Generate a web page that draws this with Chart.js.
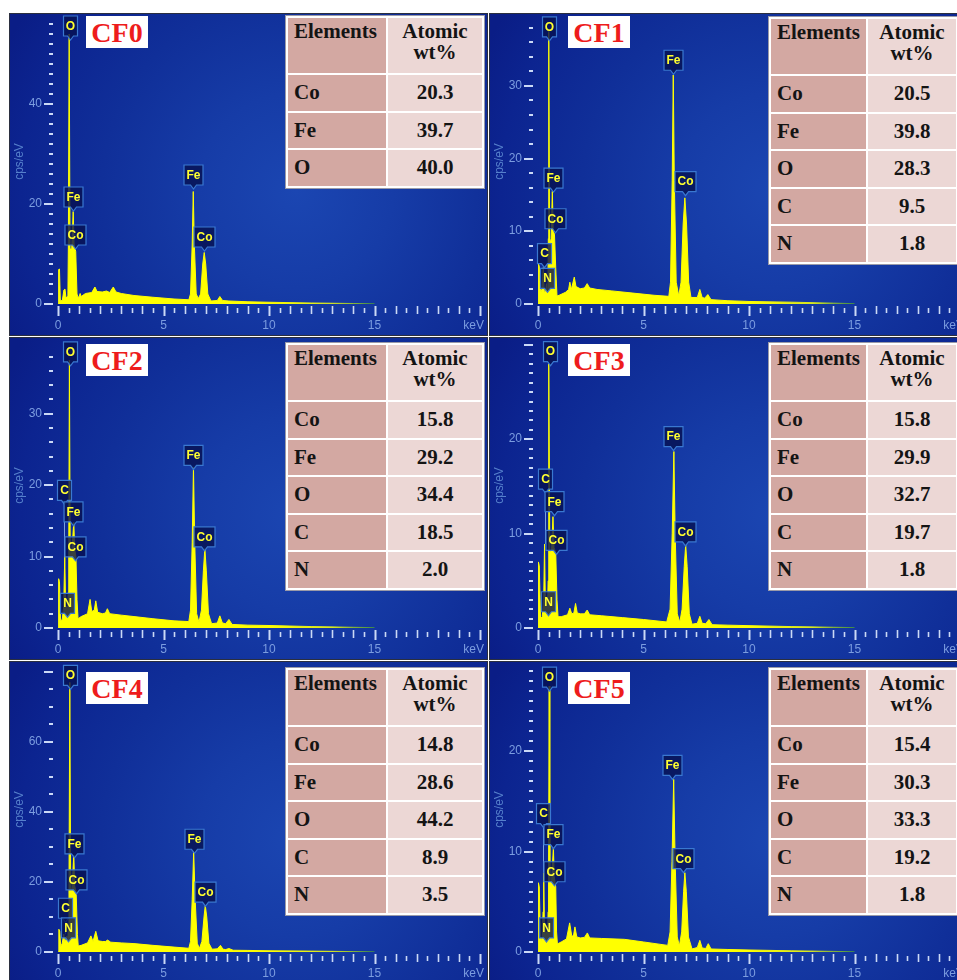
<!DOCTYPE html>
<html>
<head>
<meta charset="utf-8">
<script src="https://cdn.jsdelivr.net/npm/chart.js@4.4.1/dist/chart.umd.min.js"></script>
<style>
html, body { margin: 0; padding: 0; background: #fff; overflow: hidden; }
#fig { position: relative; width: 957px; height: 980px; overflow: hidden; }
.panel { position: absolute; width: 477px; height: 321px; outline: 1px solid #2b2f3f; }
.panel canvas { position: absolute; left: 0; top: 0; }
.tag { position: absolute; width: 62px; height: 32px; background: #fff; color: #ee1c1c;
       font: bold 28px 'Liberation Serif', 'Times New Roman', serif; text-align: center; line-height: 34px; }
.tbl { position: absolute; display: grid; gap: 2px; padding: 2px; background: #fff; outline: 1px solid #9a9aa8;
       font: bold 21px 'Liberation Serif', 'Times New Roman', serif; color: #141414; }
.tbl > div { display: flex; align-items: center; }
.tbl .el { background: #d3a8a2; padding-left: 6px; }
.tbl .val { background: #ecd7d5; justify-content: center; }
.tbl .head { align-items: flex-start; padding-top: 3px; line-height: 21px; text-align: center; }
</style>
</head>
<body>
<div id="fig"></div>
<script>
// sample names
const panelNames = ['CF0', 'CF1', 'CF2', 'CF3', 'CF4', 'CF5'];

// EDS spectra: [energy keV, counts cps/eV]
const cf0Spectrum = [[0,0],[0.03,6.9],[0.07,7.0],[0.11,0.8],[0.2,0.6],[0.28,2.8],[0.33,3.0],[0.38,1.2],[0.44,1.5],
  [0.47,2],[0.49,11],[0.53,54],[0.57,11],[0.65,11],[0.72,18.5],[0.76,12],[0.84,10.5],[0.9,2],[0.95,1.3],
  [1.0,1.5],[1.05,2.1],[1.1,1.5],[1.3,2.1],[1.6,2.3],[1.75,3.4],[1.85,2.5],[2.1,2.4],[2.3,2.6],[2.45,2.3],[2.62,3.4],[2.75,2.4],
  [3.0,2.1],[3.6,1.7],[4.5,1.35],[5.5,1.0],[6.2,0.85],
  [6.28,2],[6.36,12],[6.41,22.5],[6.46,12],[6.55,2],[6.65,1.1],[6.76,2],[6.86,8],[6.93,10.3],[7.0,8],[7.1,2],[7.25,0.6],
  [7.55,0.7],[7.67,1.5],[7.8,0.7],[8.1,0.6],[9,0.45],[10,0.35],[12,0.2],[14,0.1],[15,0.05]];
const cf1Spectrum = [[0,0],[0.02,5.5],[0.06,5.2],[0.12,1.5],[0.18,2.0],[0.25,5.0],[0.3,1.5],[0.36,1.8],[0.4,2.8],[0.44,1.5],
  [0.47,3],[0.49,9],[0.51,37.5],[0.55,8],[0.62,9],[0.68,15.5],[0.72,10],[0.78,9.6],[0.84,5],[0.9,1.1],
  [1.0,1.2],[1.3,1.6],[1.45,2.0],[1.51,3.0],[1.58,2.0],[1.72,3.7],[1.8,2.4],[2.0,2.1],[2.2,2.2],[2.33,2.8],[2.45,2.2],
  [2.8,2.0],[3.5,1.8],[4.5,1.5],[5.5,1.2],[6.2,1.05],
  [6.28,3],[6.36,17],[6.41,31.5],[6.46,17],[6.55,3],[6.67,1.1],[6.78,3],[6.88,11],[6.96,14.6],[7.04,11],[7.14,3],[7.25,0.9],
  [7.55,0.9],[7.67,2.0],[7.78,0.9],[7.9,0.8],[8.05,1.3],[8.2,0.6],[9,0.45],[10,0.35],[12,0.25],[14,0.12],[15,0.05]];
const cf2Spectrum = [[0,0],[0.03,6.9],[0.07,6.5],[0.12,1.0],[0.2,1.2],[0.27,3],[0.32,10.1],[0.36,3],[0.41,3.0],[0.45,2.0],
  [0.49,5],[0.51,10],[0.54,37.5],[0.58,10],[0.66,11],[0.75,14.8],[0.79,11],[0.85,10],[0.9,4],[0.95,1.3],
  [1.1,1.6],[1.4,2.0],[1.52,4.0],[1.6,2.3],[1.72,2.5],[1.79,3.8],[1.88,2.2],[2.1,2.0],[2.25,2.1],[2.34,2.7],[2.45,2.0],
  [3.0,1.8],[3.6,1.6],[4.5,1.3],[5.5,1.0],[6.2,0.9],
  [6.28,2.5],[6.36,12],[6.42,22.5],[6.48,12],[6.57,2],[6.68,0.8],[6.8,2.5],[6.89,8],[6.96,11.1],[7.03,8],[7.13,2],[7.28,0.6],
  [7.55,0.7],[7.67,1.7],[7.79,0.7],[7.95,0.6],[8.1,1.2],[8.25,0.5],[9,0.4],[10,0.35],[12,0.2],[14,0.1],[15,0.05]];
const cf3Spectrum = [[0,0],[0.02,7.0],[0.06,6.6],[0.12,1.0],[0.2,1.2],[0.27,3],[0.31,8.9],[0.35,2.5],[0.41,2.5],[0.45,1.8],
  [0.48,5],[0.5,8],[0.52,28],[0.56,8],[0.64,8.2],[0.71,11.8],[0.76,8.5],[0.84,8],[0.9,3],[0.95,1.2],
  [1.1,1.2],[1.4,1.4],[1.51,2.1],[1.6,1.5],[1.7,1.6],[1.78,2.6],[1.86,1.6],[2.0,1.5],[2.2,1.5],[2.33,1.9],[2.45,1.4],
  [3.0,1.3],[4.0,1.1],[5.0,0.9],[6.1,0.64],
  [6.26,2],[6.36,10],[6.44,18.7],[6.5,10],[6.6,1.5],[6.72,0.6],[6.83,2],[6.93,6.5],[7.0,8.8],[7.07,6.5],[7.17,1.5],[7.3,0.4],
  [7.55,0.5],[7.67,1.24],[7.78,0.5],[7.95,0.45],[8.1,0.9],[8.25,0.35],[9,0.3],[10,0.25],[12,0.15],[14,0.08],[15,0.04]];
const cf4Spectrum = [[0,0],[0.04,6.5],[0.08,6.0],[0.13,1.5],[0.2,2.5],[0.24,4],[0.27,5.1],[0.31,3],[0.37,3.5],[0.42,4.5],[0.46,3.0],
  [0.5,8],[0.52,18],[0.56,77],[0.6,18],[0.66,18],[0.75,27.7],[0.79,19],[0.86,17],[0.92,5],[0.96,1.7],
  [1.1,1.9],[1.4,2.6],[1.56,4.6],[1.66,3.0],[1.79,5.9],[1.9,3.2],[2.1,3.0],[2.25,3.0],[2.35,3.4],[2.5,2.8],
  [3.0,2.6],[3.6,2.4],[4.5,1.9],[5.5,1.4],[6.2,1.06],
  [6.28,3],[6.36,15],[6.43,28.7],[6.5,15],[6.6,2.5],[6.7,1.0],[6.82,3],[6.92,10],[6.98,13.3],[7.05,10],[7.15,2.5],[7.3,0.8],
  [7.55,0.9],[7.7,1.9],[7.82,0.8],[7.95,0.7],[8.1,1.0],[8.3,0.5],[9,0.45],[10,0.35],[12,0.25],[14,0.12],[15,0.05]];
const cf5Spectrum = [[0,0],[0.02,6.9],[0.06,6.5],[0.12,1.0],[0.2,1.5],[0.24,4],[0.27,7.9],[0.3,3],[0.36,1.5],[0.4,2.0],[0.44,1.2],
  [0.48,4],[0.5,7],[0.53,26.5],[0.56,7],[0.64,7],[0.73,10.4],[0.77,7.5],[0.84,6.5],[0.88,2],[0.92,0.8],
  [1.1,1.0],[1.35,1.3],[1.5,2.9],[1.6,1.6],[1.68,1.6],[1.75,2.5],[1.84,1.5],[2.0,1.4],[2.2,1.45],[2.34,1.9],[2.45,1.4],
  [3.0,1.35],[4.1,1.26],[5.0,1.0],[6.15,0.66],
  [6.26,2],[6.35,9],[6.43,17.2],[6.5,9],[6.6,1.5],[6.7,0.6],[6.81,2],[6.9,6],[6.96,7.9],[7.03,6],[7.13,1.5],[7.3,0.3],
  [7.55,0.45],[7.67,1.16],[7.78,0.4],[7.95,0.35],[8.07,0.83],[8.2,0.3],[9,0.25],[10,0.2],[12,0.12],[14,0.06],[15,0.03]];

// peak markers: [element, keV, marker level, peak level]
const cf0Peaks = [['O',0.55,52.8],['Fe',0.73,18.6],['Co',0.8,11],['Fe',6.4,23],['Co',6.94,10.6]];
const cf1Peaks = [['C',0.28,5.0],['N',0.43,1.6],['O',0.54,36.2],['Fe',0.7,15.4],['Co',0.82,9.8],['Fe',6.41,31.6],['Co',6.95,14.9]];
const cf2Peaks = [['C',0.29,17.3,10],['N',0.43,1.5],['O',0.55,36.7],['Fe',0.73,14.3],['Co',0.79,9.4],['Fe',6.39,22.2],['Co',6.93,10.8]];
const cf3Peaks = [['C',0.32,14.3,8.9],['N',0.46,1.3],['O',0.57,27.8],['Fe',0.78,11.9],['Co',0.86,7.8],['Fe',6.42,18.8],['Co',6.97,8.7]];
const cf4Peaks = [['C',0.33,8.5,5.1],['N',0.47,2.9],['O',0.59,75],['Fe',0.77,26.9],['Co',0.84,16.6],['Fe',6.43,28.2],['Co',6.97,13.1]];
const cf5Peaks = [['C',0.26,12.4,7.9],['N',0.37,1.0],['O',0.51,26],['Fe',0.71,10.3],['Co',0.74,6.6],['Fe',6.36,17.2],['Co',6.89,7.9]];

// axis ranges and tick steps
const energyMax = 20;
const energyLabels = [0, 5, 10, 15];
const yMax = [57, 39.2, 39.9, 30.2, 81.4, 28.4];
const yMajor = [20, 10, 10, 10, 20, 10];
const yMinor = [2, 2, 2, 1, 5, 1];

// composition tables
const tableHeader = ['Elements', 'Atomic', 'wt%'];
const cf0Table = [['Co','20.3'],['Fe','39.7'],['O','40.0']];
const cf1Table = [['Co','20.5'],['Fe','39.8'],['O','28.3'],['C','9.5'],['N','1.8']];
const cf2Table = [['Co','15.8'],['Fe','29.2'],['O','34.4'],['C','18.5'],['N','2.0']];
const cf3Table = [['Co','15.8'],['Fe','29.9'],['O','32.7'],['C','19.7'],['N','1.8']];
const cf4Table = [['Co','14.8'],['Fe','28.6'],['O','44.2'],['C','8.9'],['N','3.5']];
const cf5Table = [['Co','15.4'],['Fe','30.3'],['O','33.3'],['C','19.2'],['N','1.8']];

const spectra = [cf0Spectrum, cf1Spectrum, cf2Spectrum, cf3Spectrum, cf4Spectrum, cf5Spectrum];
const peaks = [cf0Peaks, cf1Peaks, cf2Peaks, cf3Peaks, cf4Peaks, cf5Peaks];
const tables = [cf0Table, cf1Table, cf2Table, cf3Table, cf4Table, cf5Table];

// layout of the panels on the page
const panelPos = [[10, 14], [490, 14], [10, 338], [490, 338], [10, 662], [490, 662]];
const tagTop = [2, 2, 6, 6, 10, 10];
const tableTop = [2, 3, 5, 5, 6, 6];

const tickColor = '#cbd9f6';
const labelColor = '#7c9de0';
const axisFont = '12px "Liberation Sans", Arial, sans-serif';

// yellow fill that fades to green at the end of the spectrum
function spectrumColor(context) {
    const chart = context.chart;
    const xs = chart.scales.x;
    if (!xs || !chart.chartArea) return '#ffff00';
    const g = chart.ctx.createLinearGradient(xs.getPixelForValue(10), 0, xs.getPixelForValue(15), 0);
    g.addColorStop(0, '#ffff00');
    g.addColorStop(0.6, '#d8e820');
    g.addColorStop(1, '#3c8a4a');
    return g;
}

// background, axes and peak markers in the style of the EDS software
const edsPlugin = {
    id: 'eds',
    beforeDraw(chart) {
        const { ctx, width, height } = chart;
        const cx = width * 0.6, cy = height * 0.55;
        const g = ctx.createRadialGradient(cx, cy, 0, cx, cy, width * 0.68);
        g.addColorStop(0, '#1b46b2');
        g.addColorStop(0.3, '#163ca7');
        g.addColorStop(0.6, '#102f99');
        g.addColorStop(0.85, '#0c2490');
        g.addColorStop(1, '#0a1d86');
        ctx.save();
        ctx.fillStyle = g;
        ctx.fillRect(0, 0, width, height);
        ctx.restore();
    },
    afterDatasetsDraw(chart, args, opts) {
        const { ctx } = chart;
        const xs = chart.scales.x, ys = chart.scales.y;
        ctx.save();
        ctx.font = 'bold 12px "Liberation Sans", Arial, sans-serif';
        ctx.textAlign = 'center';
        ctx.textBaseline = 'middle';
        for (const [el, kev, level, peak] of opts.peaks) {
            const px = Math.round(xs.getPixelForValue(kev)) + 0.5;
            const tip = ys.getPixelForValue(level);
            if (peak !== undefined) {
                ctx.strokeStyle = '#7aa2dc';
                ctx.lineWidth = 1;
                ctx.beginPath();
                ctx.moveTo(px, tip);
                ctx.lineTo(px, ys.getPixelForValue(peak));
                ctx.stroke();
            }
            const w = Math.round(ctx.measureText(el).width) + 5;
            const bottom = tip - 4, top = bottom - 20;
            ctx.beginPath();
            ctx.moveTo(px - w / 2, top);
            ctx.lineTo(px + w / 2, top);
            ctx.lineTo(px + w / 2, bottom);
            ctx.lineTo(px + 3, bottom);
            ctx.lineTo(px, tip);
            ctx.lineTo(px - 3, bottom);
            ctx.lineTo(px - w / 2, bottom);
            ctx.closePath();
            ctx.fillStyle = 'rgba(6, 16, 80, 0.8)';
            ctx.fill();
            ctx.strokeStyle = '#3a78d0';
            ctx.lineWidth = 1.2;
            ctx.stroke();
            ctx.fillStyle = '#ffff30';
            ctx.fillText(el, px, top + 10.5);
        }
        ctx.restore();
    },
    afterDraw(chart, args, opts) {
        const { ctx } = chart;
        const xs = chart.scales.x, ys = chart.scales.y;
        const y0 = ys.getPixelForValue(0);
        ctx.save();
        ctx.font = axisFont;
        ctx.strokeStyle = tickColor;
        ctx.fillStyle = labelColor;

        // y ticks
        ctx.textAlign = 'right';
        ctx.textBaseline = 'middle';
        ctx.lineWidth = 2;
        const n = Math.floor(ys.max / opts.minor + 1e-6);
        for (let i = 0; i <= n; i++) {
            const v = i * opts.minor;
            const py = Math.round(ys.getPixelForValue(v));
            const major = Math.abs(v / opts.major - Math.round(v / opts.major)) < 1e-6;
            ctx.beginPath();
            ctx.moveTo(xs.left - (major ? 14 : 9), py);
            ctx.lineTo(xs.left - 5, py);
            ctx.stroke();
            if (major && py > 14) ctx.fillText(String(v), xs.left - 16, py);
        }

        // x ticks every 0.5 keV
        for (let i = 0; i <= energyMax * 2; i++) {
            const px = Math.round(xs.getPixelForValue(i / 2)) + 0.5;
            const len = i % 10 === 0 ? 10 : (i % 2 === 0 ? 8 : 5);
            ctx.lineWidth = i % 10 === 0 ? 2 : 1.6;
            ctx.beginPath();
            ctx.moveTo(px, y0 + (i % 2 === 0 ? 2 : 4));
            ctx.lineTo(px, y0 + (i % 2 === 0 ? 2 : 4) + len);
            ctx.stroke();
        }
        ctx.textAlign = 'center';
        for (const v of energyLabels) {
            ctx.fillText(String(v), xs.getPixelForValue(v), y0 + 22);
        }
        ctx.textAlign = 'right';
        ctx.fillText('keV', xs.getPixelForValue(energyMax) + 4, y0 + 22);

        // axis title
        ctx.fillStyle = '#5680cc';
        ctx.translate(10, (chart.chartArea.top + chart.chartArea.bottom) / 2);
        ctx.rotate(-Math.PI / 2);
        ctx.textAlign = 'center';
        ctx.fillText('cps/eV', 0, 0);
        ctx.restore();
    }
};

function buildTable(rows, right) {
    const t = document.createElement('div');
    t.className = 'tbl';
    t.style.gridTemplateColumns = right ? '95px 88px' : '98px 94px';
    t.style.gridTemplateRows = '55px repeat(' + rows.length + ', 35.5px)';
    let html = '<div class="el head" style="text-align:left">' + tableHeader[0] + '</div>' +
        '<div class="val head">' + tableHeader[1] + '<br>' + tableHeader[2] + '</div>';
    for (const [el, v] of rows) {
        html += '<div class="el">' + el + '</div><div class="val">' + v + '</div>';
    }
    t.innerHTML = html;
    return t;
}

const fig = document.getElementById('fig');
panelNames.forEach((name, i) => {
    const right = i % 2 === 1;
    const panel = document.createElement('div');
    panel.className = 'panel';
    panel.style.left = panelPos[i][0] + 'px';
    panel.style.top = panelPos[i][1] + 'px';
    const canvas = document.createElement('canvas');
    canvas.width = 477;
    canvas.height = 321;
    panel.appendChild(canvas);

    const tag = document.createElement('div');
    tag.className = 'tag';
    tag.textContent = name;
    tag.style.left = (right ? 78 : 76) + 'px';
    tag.style.top = tagTop[i] + 'px';
    panel.appendChild(tag);

    const tbl = buildTable(tables[i], right);
    tbl.style.left = (right ? 279 : 276) + 'px';
    tbl.style.top = tableTop[i] + 'px';
    panel.appendChild(tbl);
    fig.appendChild(panel);

    new Chart(canvas, {
        type: 'line',
        data: {
            datasets: [{
                data: spectra[i].map(([e, c]) => ({ x: e, y: c })),
                borderColor: spectrumColor,
                backgroundColor: spectrumColor,
                borderWidth: 1,
                fill: 'origin',
                pointRadius: 0,
                tension: 0
            }]
        },
        options: {
            responsive: false,
            animation: false,
            devicePixelRatio: 1,
            layout: { padding: { left: 48, right: 7, top: 5, bottom: 31 } },
            scales: {
                x: { type: 'linear', min: 0, max: energyMax, display: false },
                y: { type: 'linear', min: 0, max: yMax[i], display: false }
            },
            plugins: {
                legend: { display: false },
                tooltip: { enabled: false },
                eds: { peaks: peaks[i], major: yMajor[i], minor: yMinor[i] }
            }
        },
        plugins: [edsPlugin]
    });
});
</script>
</body>
</html>
